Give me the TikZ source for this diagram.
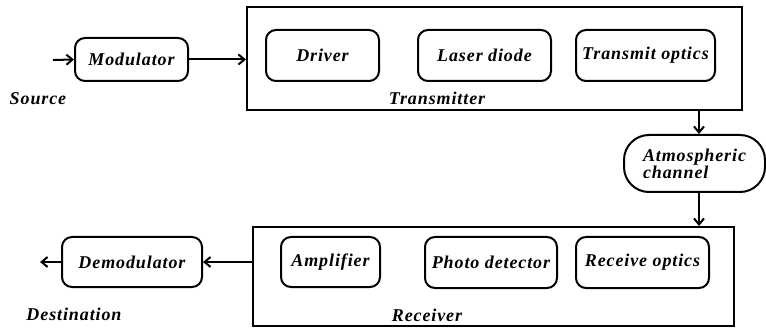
\documentclass[tikz,border=0pt]{standalone}
\usepackage{fontspec}
\setmainfont{Liberation Serif}
\newfontfamily\lblfont{Liberation Serif Bold Italic}[LetterSpace=5]
\usetikzlibrary{arrows.meta}
\begin{document}
\begin{tikzpicture}[x=1pt,y=-1pt,
  lbl/.style={font=\lblfont\fontsize{18}{20}\selectfont},
  blk/.style={draw,line width=2pt,rounded corners=10pt,inner sep=0pt,lbl},
  frame/.style={draw,line width=2pt,inner sep=0pt},
  arr/.style={line width=2pt,-{Straight Barb[length=6pt,width=10pt,line width=2pt]}}]
\useasboundingbox (0,0) rectangle (766,331);
% transmitter side
\node[frame,minimum width=495pt,minimum height=103pt] (tx) at (494.5,58.5) {};
\node[blk,minimum width=113pt,minimum height=43pt] (mod) at (131.5,59.5) {Modulator};
\node[blk,minimum width=113pt,minimum height=51pt] (drv) at (322.5,55.5) {Driver};
\node[blk,minimum width=133pt,minimum height=51pt] (ld) at (484.5,55.5) {Laser diode};
\node[blk,minimum width=139pt,minimum height=51pt] (to) at (645.5,55.5) {Transmit optics};
\node[lbl] (txl) at (437,98) {Transmitter};
\node[lbl] (src) at (38,99) {Source};
\coordinate (in) at (53,60);
% channel
\node[blk,rounded corners=25pt,minimum width=141pt,minimum height=57pt,align=left] (ch) at (694.5,163.5) {Atmospheric\\[-3pt]channel};
\coordinate (ax) at (699,0);
% receiver side
\node[frame,minimum width=481pt,minimum height=99pt] (rx) at (493.5,276.5) {};
\node[blk,minimum width=99pt,minimum height=50pt] (amp) at (330.5,262) {Amplifier};
\node[blk,minimum width=132pt,minimum height=51pt] (pd) at (491,262.5) {Photo detector};
\node[blk,minimum width=133pt,minimum height=51pt] (ro) at (642.5,262.5) {Receive optics};
\node[blk,minimum width=140pt,minimum height=50pt] (dem) at (132,262) {Demodulator};
\node[lbl] (rxl) at (427,315) {Receiver};
\node[lbl] (dst) at (74,314) {Destination};
\coordinate (out) at (40,262);
% connectors
\draw[arr] (in) -- (mod.west);
\draw[arr] (mod.east) -- (mod.east -| tx.west);
\draw[arr] (tx.south -| ax) -- (ch.north -| ax);
\draw[arr] (ch.south -| ax) -- (rx.north -| ax);
\draw[arr] (dem.east -| rx.west) -- (dem.east);
\draw[arr] (dem.west) -- (out);
\end{tikzpicture}
\end{document}
